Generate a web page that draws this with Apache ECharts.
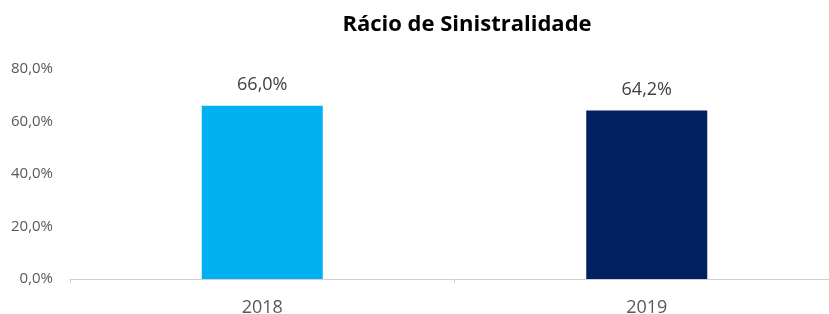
<!DOCTYPE html>
<html><head><meta charset="utf-8">
<script src="https://cdn.jsdelivr.net/npm/echarts@6/dist/echarts.min.js"></script>
<style>html,body{margin:0;padding:0;background:#fff}#c{width:829px;height:314px}</style>
</head><body><div id="c"></div>
<script>
const categories = ['2018', '2019'];
const values = [66.0, 64.2];
const barColors = ['#00B0F0', '#002060'];
const yTicks = [0, 20, 40, 60, 80];
const titleText = 'Rácio de Sinistralidade';

const fmt = v => v.toFixed(1).replace('.', ',') + '%';
const chart = echarts.init(document.getElementById('c'));
chart.setOption({
  animation: false,
  title: { text: titleText, left: 462, top: 9, textAlign: 'center',
    textStyle: { fontFamily: 'Open Sans', fontWeight: 'bold', fontSize: 22, color: '#000' } },
  grid: { left: 70, top: 69, width: 769, height: 210, containLabel: false, outerBoundsMode: 'none' },
  xAxis: { type: 'category', data: categories,
    axisLine: { lineStyle: { color: '#d0d0d0' } },
    axisTick: { show: true, alignWithLabel: false, length: 4, lineStyle: { color: '#d0d0d0' } },
    axisLabel: { margin: 20, fontFamily: 'Open Sans', fontSize: 18, color: '#595959' } },
  yAxis: { type: 'value', min: 0, max: 80, interval: 20,
    splitLine: { show: false }, axisLine: { show: false }, axisTick: { show: false },
    axisLabel: { margin: 17, fontFamily: 'Open Sans', fontSize: 15, color: '#595959',
      formatter: v => yTicks.includes(v) ? v.toFixed(1).replace('.', ',') + '%' : '' } },
  series: [{ type: 'bar', barWidth: 121,
    data: values.map((v, i) => ({ value: v, itemStyle: { color: barColors[i] } })),
    label: { show: true, position: 'top', distance: 12, fontFamily: 'Open Sans', fontSize: 18, color: '#404040',
      formatter: p => fmt(p.value) } }]
});
</script></body></html>
